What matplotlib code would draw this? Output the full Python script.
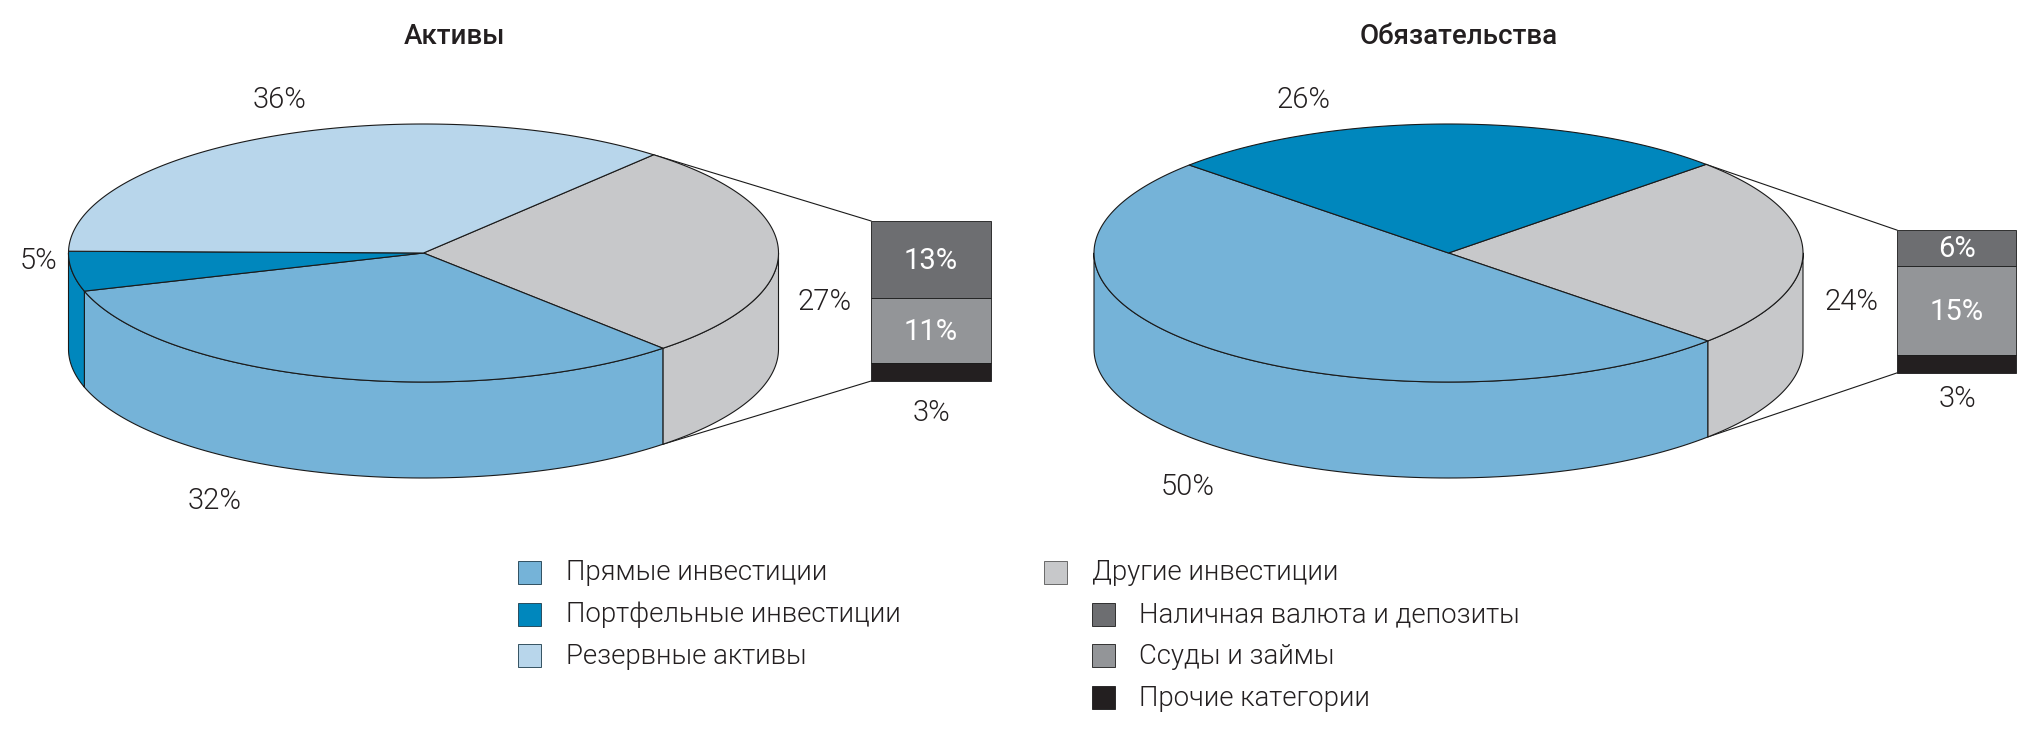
import numpy as np
import matplotlib
matplotlib.use("Agg")
import matplotlib.pyplot as plt
from matplotlib.patches import Polygon, Rectangle

# ---- data ----
titles = ["Активы", "Обязательства"]
slice_names = ["Другие инвестиции", "Прямые инвестиции", "Портфельные инвестиции", "Резервные активы"]
assets_values = [27, 32, 5, 36]
liabilities_values = [24, 50, 26]
liabilities_names = ["Другие инвестиции", "Прямые инвестиции", "Портфельные инвестиции"]
sub_names = ["Наличная валюта и депозиты", "Ссуды и займы", "Прочие категории"]
assets_sub = [13, 11, 3]
liabilities_sub = [6, 15, 3]

colors = {"Прямые инвестиции": "#75B3D8", "Портфельные инвестиции": "#0087BD",
          "Резервные активы": "#B8D6EB", "Другие инвестиции": "#C7C8CA",
          "Наличная валюта и депозиты": "#6D6E71", "Ссуды и займы": "#939598",
          "Прочие категории": "#231F20"}

FONT = "Roboto"
W, H = 2034, 731
fig = plt.figure(figsize=(W / 100, H / 100), dpi=100)
ax = fig.add_axes([0, 0, 1, 1])
ax.set_xlim(0, W); ax.set_ylim(H, 0); ax.axis("off")
LW = 0.8
EDGE = "#1a1a1a"
TXT = "#231F20"


def pie3d(cx, cy, rx, ry, depth, start, names, values):
    def pt(a):
        a = np.radians(a)
        return np.column_stack([cx + rx * np.cos(a), cy - ry * np.sin(a)])
    angle = start
    spans = []
    for n, v in zip(names, values):
        end = angle - v * 3.6
        spans.append((n, angle, end))
        angle = end
    for n, a0, a1 in spans:           # sides (front half only)
        l, h = max(a1, -180), min(a0, 0)
        if h > l:
            p = pt(np.linspace(l, h, 100))
            q = p[::-1] + [0, depth]
            ax.add_patch(Polygon(np.vstack([p, q]), closed=True, fc=colors[n], ec=EDGE, lw=LW,
                                 joinstyle="round", zorder=2))
    for n, a0, a1 in spans:           # top face
        p = pt(np.linspace(a0, a1, 200))
        ax.add_patch(Polygon(np.vstack([[cx, cy], p]), closed=True, fc=colors[n], ec=EDGE, lw=LW,
                             joinstyle="round", zorder=3))
    return pt(start)[0], pt(spans[0][2])[0] + [0, depth]


def stack(x0, x1, yc, per, names, values, top_pt, bot_pt):
    total = sum(values) * per
    y = yc - total / 2
    ytop = y
    for n, v in zip(names, values):
        h = v * per
        ax.add_patch(Rectangle((x0, y), x1 - x0, h, fc=colors[n], ec=EDGE, lw=0.6, zorder=3))
        if v > 3:
            ax.text((x0 + x1) / 2, y + h / 2 + 1.5, f"{v}%", color="white", ha="center", va="center",
                    fontsize=21, family=FONT, zorder=4)
        y += h
    ax.plot([top_pt[0], x0], [top_pt[1], ytop], color=EDGE, lw=LW, zorder=1)
    ax.plot([bot_pt[0], x0], [bot_pt[1], y], color=EDGE, lw=LW, zorder=1)


tp, bp = pie3d(423.5, 253, 355, 129, 96, 49.6, slice_names, assets_values)
stack(871, 991, 301, 5.93, sub_names, assets_sub, tp, bp)
tp, bp = pie3d(1448.5, 253, 354.5, 129, 96, 43.4, liabilities_names, liabilities_values)
stack(1897, 2016, 301.5, 5.95, sub_names, liabilities_sub, tp, bp)


def label(x, y, s, **k):
    kw = dict(ha="center", va="center", fontsize=21, family=FONT, color=TXT, fontweight=300)
    kw.update(k)
    ax.text(x, y, s, **kw)


label(455, 36, titles[0], fontsize=20, fontweight=500)
label(1459, 36, titles[1], fontsize=20, fontweight=500)
for (x, y), v in zip([(825, 302), (215, 501), (39, 261), (280, 100)], assets_values):
    label(x, y, f"{v}%")
label(931, 413, f"{assets_sub[2]}%")
for (x, y), v in zip([(1851, 302), (1188, 487), (1304, 100)], liabilities_values):
    label(x, y, f"{v}%")
label(1958, 399, f"{liabilities_sub[2]}%")

# legend
legend_left = ["Прямые инвестиции", "Портфельные инвестиции", "Резервные активы"]
rows = [573, 615, 656, 698]
for n, y in zip(legend_left, rows):
    ax.add_patch(Rectangle((518, y - 12.5), 23, 23, fc=colors[n], ec="#1a3a4a", lw=0.6))
    label(566, y, n, ha="left", fontsize=19.8)
ax.add_patch(Rectangle((1044, rows[0] - 12.5), 23, 23, fc=colors["Другие инвестиции"], ec="#555555", lw=0.6))
label(1092, rows[0], "Другие инвестиции", ha="left", fontsize=19.8)
for n, y in zip(sub_names, rows[1:]):
    ax.add_patch(Rectangle((1092, y - 12.5), 23, 23, fc=colors[n], ec=EDGE, lw=0.6))
    label(1139, y, n, ha="left", fontsize=19.8)

fig.savefig("out.png", dpi=100, facecolor="white")
